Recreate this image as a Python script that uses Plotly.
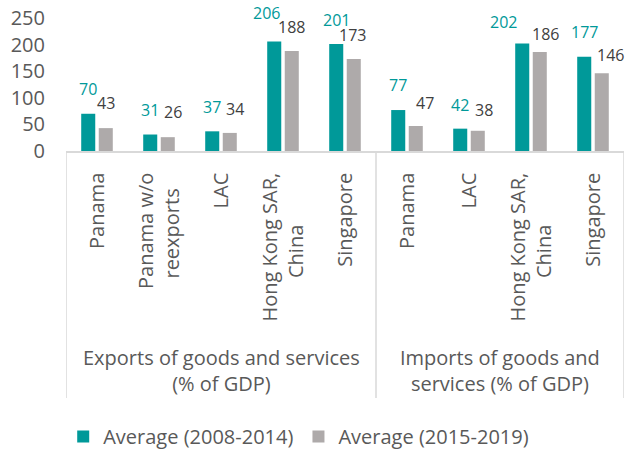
import plotly.graph_objects as go

# Trade openness, averages by period (% of GDP)
groups = ["Exports of goods and services<br>(% of GDP)",
          "Imports of goods and<br>services (% of GDP)"]

NB = "\u00a0"  # pads the shorter line so wrapped labels sit centred
export_economies = ["Panama", "Panama w/o<br>reexports" + NB * 3, "LAC",
                    "Hong Kong SAR,<br>China" + NB * 10, "Singapore"]
import_economies = ["Panama", "LAC",
                    "Hong Kong SAR,<br>China" + NB * 10, "Singapore"]

exports_2008_2014 = [70, 31, 37, 206, 201]
exports_2015_2019 = [43, 26, 34, 188, 173]
imports_2008_2014 = [77, 42, 202, 177]
imports_2015_2019 = [47, 38, 186, 146]

series_names = ["Average (2008-2014)", "Average (2015-2019)"]

# Small pixel nudges for value labels (dx, dy) so neighbours don't collide
nudge_first = [(0, 1), (0, 1), (0, 0), (-8, 4), (0, 0),
               (0, 1), (0, 0), (-19, -2), (0, 1)]
nudge_second = [(0, 1), (5, 1), (5, 0), (0, 0), (-1, 0),
                (9, -1), (6, -3), (6, -6), (9, -6)]

TEAL = "#009999"
GREY = "#AEAAAA"
TEXT = "#595959"
LINE = "#D9D9D9"
FONT = "Open Sans"

labels = export_economies + import_economies
first = exports_2008_2014 + imports_2008_2014
second = exports_2015_2019 + imports_2015_2019
xs = list(range(len(labels)))

BARGAP = 0.434
BARGROUPGAP = 0.2
half_slot = (1 - BARGAP) / 4  # centre offset of each bar in a pair

W, H = 629, 451
ML, MR, MT, MB = 66, 5, 17.5, 300
plot_h = H - MT - MB


def py(px):
    """Pixel row (from top) -> paper y coordinate."""
    return (H - MB - px) / plot_h


fig = go.Figure()
fig.add_trace(go.Bar(x=xs, y=first, name=series_names[0],
                     marker=dict(color=TEAL, line=dict(width=0))))
fig.add_trace(go.Bar(x=xs, y=second, name=series_names[1],
                     marker=dict(color=GREY, line=dict(width=0))))

annotations = []
for i, (a, b) in enumerate(zip(first, second)):
    dx, dy = nudge_first[i]
    annotations.append(dict(x=i - half_slot, y=a, xref="x", yref="y",
                            text=str(a), showarrow=False, yanchor="bottom",
                            xshift=dx, yshift=11 + dy,
                            font=dict(family=FONT, size=16, color=TEAL)))
    dx, dy = nudge_second[i]
    annotations.append(dict(x=i + half_slot, y=b, xref="x", yref="y",
                            text=str(b), showarrow=False, yanchor="bottom",
                            xshift=dx, yshift=11 + dy,
                            font=dict(family=FONT, size=16, color="#404040")))

# Group captions
n_exp = len(export_economies)
group_centres = [(n_exp - 1) / 2, n_exp + (len(import_economies) - 1) / 2]
for gx, gtext in zip(group_centres, groups):
    annotations.append(dict(x=gx, y=py(371), xref="x", yref="paper",
                            text=gtext, showarrow=False,
                            yanchor="middle", xanchor="center",
                            font=dict(family=FONT, size=20, color=TEXT)))

# Frame separating the two groups
shapes = []
for bx in [-0.5, n_exp - 0.5, len(labels) - 0.5]:
    shapes.append(dict(type="line", xref="x", yref="paper",
                       x0=bx, x1=bx, y0=0, y1=py(399),
                       line=dict(color=LINE, width=1.5)))

fig.update_layout(
    width=W, height=H,
    margin=dict(l=ML, r=MR, t=MT, b=MB, autoexpand=False),
    paper_bgcolor="white", plot_bgcolor="white",
    barmode="group", bargap=BARGAP, bargroupgap=BARGROUPGAP,
    font=dict(family=FONT, color=TEXT),
    xaxis=dict(range=[-0.5, len(labels) - 0.5],
               tickmode="array", tickvals=xs, ticktext=labels,
               tickangle=-90, ticklabelstandoff=12,
               tickfont=dict(family=FONT, size=20, color=TEXT),
               showgrid=False, zeroline=False, ticks="",
               showline=True, linecolor=LINE, linewidth=1.5),
    yaxis=dict(range=[0, 250], dtick=50, showgrid=False, zeroline=False,
               showline=False, ticks="", ticklabelstandoff=20,
               tickfont=dict(family=FONT, size=20, color=TEXT)),
    legend=dict(orientation="h", x=-0.005, xanchor="left",
                y=-2, yanchor="top",
                font=dict(family=FONT, size=20, color=TEXT),
                itemsizing="constant", traceorder="normal"),
    annotations=annotations,
    shapes=shapes,
)

fig.write_html("out.html")
